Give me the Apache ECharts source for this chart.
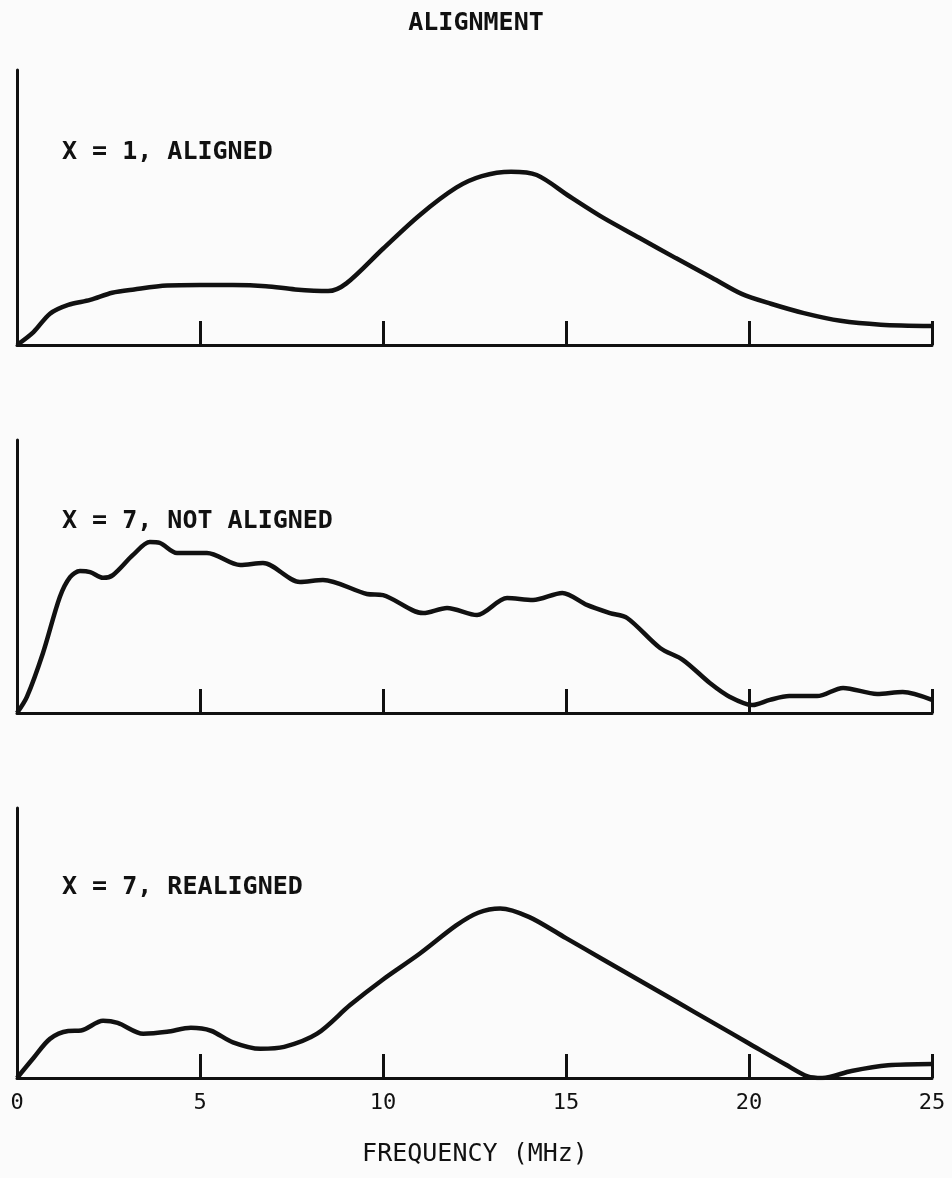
<!DOCTYPE html>
<html>
<head>
<meta charset="utf-8">
<script src="https://cdn.jsdelivr.net/npm/echarts@6/dist/echarts.min.js"></script>
<style>
html,body{margin:0;padding:0;background:#fbfbfb;}
#chart{width:952px;height:1178px;}
</style>
</head>
<body>
<div id="chart"></div>
<script>
// ---- data (frequency in MHz, relative amplitude 0-100) ----
var titleText = 'ALIGNMENT';
var xAxisName = 'FREQUENCY (MHz)';
var panelLabels = ['X = 1, ALIGNED', 'X = 7, NOT ALIGNED', 'X = 7, REALIGNED'];
var xTicks = [0, 5, 10, 15, 20, 25];

var alignedX = [0, 0.45, 0.9, 1.4, 2.0, 2.6, 3.2, 4.1, 5.0, 5.9, 6.8, 7.6, 8.5, 9.0, 10.0, 11.0, 12.0, 12.7, 13.5, 14.2, 15.1, 16.0, 17.0, 18.0, 19.0, 19.8, 20.6, 21.5, 22.5, 23.6, 25];
var alignedY = [0, 4.7, 11.4, 14.6, 16.4, 19.0, 20.2, 21.6, 21.8, 21.8, 21.4, 20.2, 19.6, 22.4, 35.0, 47.2, 57.2, 61.4, 63.0, 61.8, 54.0, 46.4, 39.0, 31.6, 24.4, 18.6, 15.0, 11.6, 8.8, 7.4, 6.9];

var notAlignedX = [0, 0.27, 0.71, 1.17, 1.45, 1.72, 2.0, 2.35, 2.62, 3.17, 3.63, 3.9, 4.37, 5.19, 6.1, 6.72, 7.73, 8.36, 9.56, 10.0, 11.1, 11.75, 12.57, 13.39, 14.1, 14.9, 15.57, 16.2, 16.67, 17.57, 18.2, 18.93, 19.48, 20.1, 20.57, 21.1, 21.86, 22.57, 23.5, 24.2, 25];
var notAlignedY = [0, 5.9, 22, 42.5, 49.8, 52, 51.6, 49.5, 50.5, 57.9, 62.6, 62.3, 58.6, 58.6, 54.2, 54.9, 48, 48.7, 43.6, 43.2, 36.6, 38.5, 35.9, 42.1, 41.4, 44, 39.6, 36.6, 34.8, 23.8, 19.4, 11, 5.9, 2.9, 4.8, 6.2, 6.2, 9.2, 7, 7.7, 4.8];

var realignedX = [0, 0.45, 0.9, 1.4, 1.75, 2.35, 2.75, 3.45, 4.1, 4.75, 5.3, 5.9, 6.65, 7.3, 8.2, 9.1, 10.0, 11.0, 12.0, 12.6, 13.2, 14.0, 15.0, 16.0, 17.0, 18.0, 19.0, 20.0, 21.0, 21.6, 22.0, 22.8, 23.8, 25];
var realignedY = [0, 7.4, 14.5, 17.4, 17.6, 21.2, 20.4, 16.4, 17.1, 18.6, 17.5, 13.2, 10.8, 11.5, 16.4, 27.0, 36.5, 46.0, 56.5, 61.2, 62.8, 59.6, 51.8, 44.0, 36.2, 28.4, 20.6, 12.8, 5.0, 0.6, 0, 2.6, 4.7, 5.2];

function pairs(xs, ys) { return xs.map(function (x, i) { return [x, ys[i]]; }); }
var seriesData = [pairs(alignedX, alignedY), pairs(notAlignedX, notAlignedY), pairs(realignedX, realignedY)];

var INK = '#111111';
var FONT = '"DejaVu Sans Mono", "Liberation Mono", monospace';

var grids = [
  { left: 17, right: 20, top: 70, height: 275 },
  { left: 17, right: 20, top: 440, height: 273 },
  { left: 17, right: 20, top: 808, height: 270 }
];

var xAxes = [], yAxes = [], series = [];
for (var i = 0; i < 3; i++) {
  xAxes.push({
    type: 'value', gridIndex: i, min: 0, max: 25, interval: 5,
    axisLine: { show: true, lineStyle: { color: INK, width: 3 } },
    axisTick: { show: true, inside: true, length: 24, lineStyle: { color: INK, width: 3 } },
    splitLine: { show: false },
    axisLabel: {
      show: i === 2, margin: 14, color: INK, fontFamily: FONT, fontSize: 22,
      showMinLabel: true, showMaxLabel: true,
      formatter: function (v) { return xTicks.indexOf(v) >= 0 ? String(v) : ''; }
    }
  });
  yAxes.push({
    type: 'value', gridIndex: i, min: 0, max: 100,
    axisLine: { show: true, lineStyle: { color: INK, width: 3 } },
    axisTick: { show: false }, axisLabel: { show: false }, splitLine: { show: false }
  });
  series.push({
    type: 'line', xAxisIndex: i, yAxisIndex: i, data: seriesData[i],
    smooth: 0.3, symbol: 'none',
    lineStyle: { color: INK, width: 4.5 }
  });
}

var chart = echarts.init(document.getElementById('chart'), null, { renderer: 'canvas' });
chart.setOption({
  backgroundColor: '#fbfbfb',
  animation: false,
  grid: grids,
  xAxis: xAxes,
  yAxis: yAxes,
  series: series,
  graphic: [
    { type: 'text', left: 'center', top: 11, style: { text: titleText, fill: INK, font: 'bold 25px ' + FONT } },
    { type: 'text', x: 62, y: 152, style: { text: panelLabels[0], fill: INK, font: 'bold 25px ' + FONT, textVerticalAlign: 'middle' } },
    { type: 'text', x: 62, y: 521, style: { text: panelLabels[1], fill: INK, font: 'bold 25px ' + FONT, textVerticalAlign: 'middle' } },
    { type: 'text', x: 62, y: 887, style: { text: panelLabels[2], fill: INK, font: 'bold 25px ' + FONT, textVerticalAlign: 'middle' } },
    { type: 'text', x: 475, y: 1154, style: { text: xAxisName, fill: INK, font: '25px ' + FONT, textAlign: 'center', textVerticalAlign: 'middle' } }
  ]
});
</script>
</body>
</html>
